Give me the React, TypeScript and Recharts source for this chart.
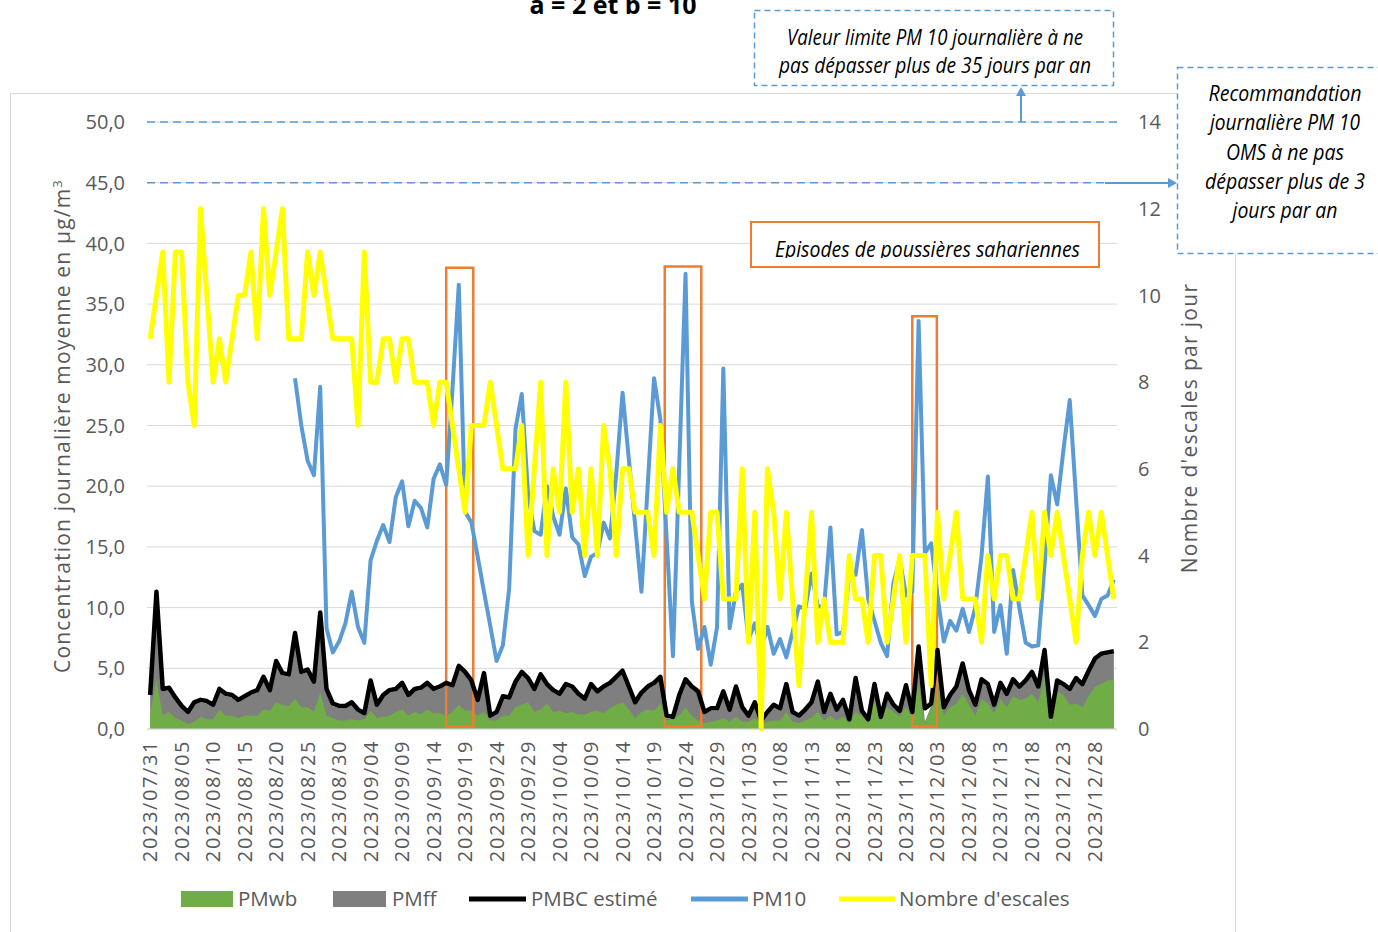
import React from "react";
import {
  ComposedChart,
  Area,
  Line,
  XAxis,
  YAxis,
  CartesianGrid,
  ReferenceLine,
  ReferenceArea,
} from "recharts";

// one value per day, 2023/07/31 -> 2023/12/31
const pmwb = [
  1.3, 4.0, 1.1, 1.4, 0.9, 0.7, 0.4, 0.6, 1.0, 0.8,
  0.8, 1.6, 1.1, 1.1, 0.9, 1.1, 1.1, 1.1, 1.6, 1.5,
  2.2, 2.0, 1.9, 2.5, 1.8, 1.8, 1.4, 3.0, 1.1, 0.9,
  0.7, 0.7, 0.8, 0.7, 0.8, 1.5, 0.9, 1.0, 1.1, 1.4,
  1.6, 1.1, 1.4, 1.2, 1.6, 1.3, 1.3, 1.1, 1.4, 2.0,
  1.5, 1.5, 1.1, 1.4, 0.7, 0.7, 1.1, 1.1, 1.8, 2.0,
  2.2, 1.4, 1.6, 2.1, 1.4, 1.5, 1.3, 1.4, 1.2, 1.2,
  1.4, 1.5, 1.3, 1.7, 2.0, 2.2, 1.6, 0.9, 1.4, 1.6,
  1.5, 2.1, 0.7, 0.9, 1.1, 1.8, 1.1, 0.7, 0.5, 0.6,
  0.7, 0.9, 0.6, 1.0, 0.6, 0.6, 0.9, 0.3, 0.6, 0.7,
  0.7, 1.4, 0.6, 0.5, 0.7, 0.9, 1.4, 0.7, 1.1, 0.7,
  1.0, 0.5, 1.4, 1.1, 0.6, 2.4, 1.1, 1.8, 1.4, 1.0,
  1.8, 1.0, 3.7, 0.5, 1.8, 4.3, 1.1, 1.8, 2.1, 2.9,
  2.0, 1.1, 2.5, 2.1, 1.3, 2.5, 1.8, 2.7, 2.4, 2.5,
  2.9, 2.2, 4.3, 0.5, 3.1, 2.8, 2.0, 2.1, 1.8, 2.7,
  3.5, 3.7, 4.0, 4.1,
];

const pmff = [
  2.6, 11.0, 3.1, 3.2, 2.4, 1.7, 1.2, 2.0, 2.2, 2.1,
  1.8, 3.1, 2.7, 2.6, 2.2, 2.5, 2.8, 3.0, 4.1, 3.0,
  5.4, 4.4, 4.3, 7.7, 4.5, 4.7, 3.7, 9.4, 3.1, 1.9,
  1.7, 1.7, 2.0, 1.4, 1.1, 3.8, 1.8, 2.6, 3.0, 3.1,
  3.6, 2.6, 3.1, 3.2, 3.6, 3.1, 3.3, 3.6, 3.4, 5.0,
  4.5, 3.8, 2.2, 4.4, 0.9, 1.2, 2.5, 2.4, 3.7, 4.5,
  4.0, 3.1, 4.3, 3.5, 3.0, 2.7, 3.5, 3.3, 2.7, 2.3,
  3.5, 2.9, 3.3, 3.6, 4.1, 4.6, 3.3, 2.0, 2.8, 3.3,
  3.6, 4.1, 0.9, 0.8, 2.6, 3.9, 3.3, 2.9, 1.2, 1.5,
  1.5, 2.9, 1.4, 3.3, 1.6, 0.9, 2.0, 0.5, 1.2, 1.8,
  1.5, 3.5, 1.2, 0.9, 1.4, 2.0, 3.7, 1.2, 2.7, 1.4,
  2.2, 0.6, 4.0, 1.3, 0.6, 3.5, 0.8, 2.7, 1.8, 1.3,
  3.4, 1.2, 6.6, 0.6, 1.9, 6.3, 1.6, 2.6, 3.3, 5.2,
  3.0, 1.8, 3.9, 3.5, 1.8, 3.6, 2.7, 3.9, 3.3, 3.8,
  4.5, 3.3, 6.3, 0.5, 3.8, 3.5, 3.1, 4.0, 3.5, 4.6,
  5.6, 6.0, 6.1, 6.2,
];

const pmbc = [
  2.8, 11.3, 3.3, 3.4, 2.6, 1.9, 1.4, 2.2, 2.4, 2.3,
  2.0, 3.3, 2.9, 2.8, 2.4, 2.7, 3.0, 3.2, 4.3, 3.2,
  5.6, 4.6, 4.5, 7.9, 4.7, 4.9, 3.9, 9.6, 3.3, 2.1,
  1.9, 1.9, 2.2, 1.6, 1.3, 4.0, 2.0, 2.8, 3.2, 3.3,
  3.8, 2.8, 3.3, 3.4, 3.8, 3.3, 3.5, 3.8, 3.6, 5.2,
  4.7, 4.0, 2.4, 4.6, 1.1, 1.4, 2.7, 2.6, 3.9, 4.7,
  4.2, 3.3, 4.5, 3.7, 3.2, 2.9, 3.7, 3.5, 2.9, 2.5,
  3.7, 3.1, 3.5, 3.8, 4.3, 4.8, 3.5, 2.2, 3.0, 3.5,
  3.8, 4.3, 1.1, 1.0, 2.8, 4.1, 3.5, 3.1, 1.4, 1.7,
  1.7, 3.1, 1.6, 3.5, 1.8, 1.1, 2.2, 0.7, 1.4, 2.0,
  1.7, 3.7, 1.4, 1.1, 1.6, 2.2, 3.9, 1.4, 2.9, 1.6,
  2.4, 0.8, 4.2, 1.5, 0.8, 3.7, 1.0, 2.9, 2.0, 1.5,
  3.6, 1.4, 6.8, 1.7, 2.1, 6.5, 1.8, 2.8, 3.5, 5.4,
  3.2, 2.0, 4.1, 3.7, 2.0, 3.8, 2.9, 4.1, 3.5, 4.0,
  4.7, 3.5, 6.5, 1.0, 4.0, 3.7, 3.3, 4.2, 3.7, 4.8,
  5.8, 6.2, 6.3, 6.4,
];

const pm10 = [
  null, null, null, null, null, null, null, null, null, null,
  null, null, null, null, null, null, null, null, null, null,
  null, null, null, 28.9, 25.0, 22.1, 20.9, 28.2, 8.3, 6.3,
  7.2, 8.7, 11.3, 8.4, 7.1, 13.9, 15.5, 16.8, 15.4, 19.1,
  20.4, 16.7, 18.8, 18.2, 16.6, 20.6, 21.8, 20.1, 28.0, 36.6,
  17.9, 17.0, 14.2, 11.3, 8.5, 5.6, 6.9, 11.6, 24.7, 27.6,
  19.3, 16.3, 16.0, 20.0, 17.5, 16.0, 19.8, 15.8, 15.2, 12.6,
  14.2, 14.5, 17.0, 15.7, 21.0, 27.7, 22.2, 16.8, 11.3, 20.1,
  28.9, 25.5, 15.7, 6.0, 21.7, 37.5, 10.5, 6.6, 8.4, 5.3,
  8.4, 29.7, 8.3, 11.3, 11.9, 7.4, 8.7, 6.6, 8.4, 6.2,
  7.4, 5.9, 8.0, 10.1, 9.9, 12.8, 10.1, 10.1, 16.6, 7.8,
  8.0, 12.8, 12.7, 16.4, 10.7, 8.9, 7.1, 6.0, 12.0, 14.0,
  11.0, 11.3, 33.6, 14.5, 15.3, 11.0, 7.2, 8.9, 8.1, 9.9,
  8.0, 10.0, 14.3, 20.8, 8.0, 10.2, 6.2, 13.1, 10.0, 7.1,
  6.8, 6.9, 13.5, 20.9, 18.5, 23.0, 27.1, 19.0, 11.0, 10.2,
  9.3, 10.7, 11.0, 12.3,
];

const escales = [
  9, 10, 11, 8, 11, 11, 8, 7, 12, 10,
  8, 9, 8, 9, 10, 10, 11, 9, 12, 10,
  11, 12, 9, 9, 9, 11, 10, 11, 10, 9,
  9, 9, 9, 7, 11, 8, 8, 9, 9, 8,
  9, 9, 8, 8, 8, 7, 8, 8, 7, 6,
  5, 7, 7, 7, 8, 7, 6, 6, 6, 7,
  4, 6, 8, 4, 6, 5, 8, 5, 6, 4,
  6, 4, 7, 6, 4, 6, 6, 5, 5, 5,
  4, 7, 5, 6, 5, 5, 5, 4, 3, 5,
  5, 3, 3, 3, 6, 2, 5, 0, 6, 5,
  3, 5, 3, 1, 3, 5, 2, 3, 2, 2,
  2, 4, 3, 3, 2, 4, 4, 2, 3, 4,
  2, 4, 4, 4, 1, 5, 3, 4, 5, 3,
  3, 3, 2, 4, 3, 4, 4, 3, 3, 4,
  5, 3, 5, 4, 5, 4, 3, 2, 4, 5,
  4, 5, 4, 3,
];

const xTicks = [0, 5, 10, 15, 20, 25, 30, 35, 40, 45, 50, 55, 60, 65, 70, 75, 80, 85, 90, 95, 100, 105, 110, 115, 120, 125, 130, 135, 140, 145, 150];
const leftTicks = [0, 5, 10, 15, 20, 25, 30, 35, 40, 45, 50];
const rightTicks = [0, 2, 4, 6, 8, 10, 12, 14];

// saharan dust episodes, in day index / µg/m3
const episodes = [
  { x1: 47.0, x2: 51.3, top: 38.0 },
  { x1: 81.7, x2: 87.5, top: 38.1 },
  { x1: 121.0, x2: 124.9, top: 34.0 },
];

const limitNote = ["Valeur limite PM 10 journalière à ne", "pas dépasser plus de 35 jours par an"];
const limitWidths = [296, 312];
const omsNote = ["Recommandation", "journalière PM 10", "OMS à ne pas", "dépasser plus de 3", "jours par an"];
const omsWidths = [153, 150, 118, 160, 105];

const START = Date.UTC(2023, 6, 31);
const pad = (n: number) => String(n).padStart(2, "0");
const dates = pmbc.map((_, i) => {
  const d = new Date(START + i * 86400000);
  return `${d.getUTCFullYear()}/${pad(d.getUTCMonth() + 1)}/${pad(d.getUTCDate())}`;
});

const data = dates.map((date, i) => ({
  i,
  date,
  pmwb: pmwb[i],
  pmff: pmff[i],
  pmbc: pmbc[i],
  pm10: pm10[i],
  escales: escales[i],
}));

const W = 1378;
const H = 932;
const BLUE = "#5b9bd5";
const ORANGE = "#ed7d31";
const GRID = "#d9d9d9";
const TXT = "#595959";
const FONT = "'Open Sans', 'Liberation Sans', sans-serif";

const fmt = (v: number) => v.toFixed(1).replace(".", ",");

function DateTick(props: any) {
  const { x, y, payload } = props;
  return (
    <g transform={`translate(${x},${y})`}>
      <text transform="rotate(-90)" x={-3} dy={7} textAnchor="end" fill={TXT} fontSize={20} letterSpacing={1.6}>
        {dates[payload.value]}
      </text>
    </g>
  );
}

function Note({ x, y, w, text }: { x: number; y: number; w: number; text: string }) {
  return (
    <text x={x} y={y} textAnchor="middle" fontSize={21} fontStyle="italic" fill="#000" textLength={w} lengthAdjust="spacingAndGlyphs">
      {text}
    </text>
  );
}

export default function App() {
  return (
    <div style={{ position: "absolute", left: 0, top: 0, width: W, height: H, background: "#fff", overflow: "hidden", fontFamily: FONT }}>
      <ComposedChart width={W} height={H} data={data} margin={{ top: 122, right: 161, bottom: 63, left: 47 }}>
        <CartesianGrid vertical={false} stroke={GRID} />
        <XAxis
          dataKey="i"
          type="number"
          domain={[-0.5, 153.5]}
          ticks={xTicks}
          interval={0}
          tick={DateTick}
          tickLine={false}
          axisLine={{ stroke: GRID }}
          height={140}
        />
        <YAxis
          domain={[0, 50]}
          ticks={leftTicks}
          tickFormatter={fmt}
          axisLine={false}
          tickLine={false}
          tickMargin={16}
          width={100}
          tick={{ fontSize: 20, fill: TXT }}
        />
        <YAxis
          yAxisId="right"
          orientation="right"
          domain={[0, 14]}
          ticks={rightTicks}
          axisLine={false}
          tickLine={false}
          tickMargin={15}
          width={100}
          tick={{ fontSize: 20, fill: TXT, textAnchor: "start" }}
        />
        <ReferenceLine y={50} stroke={BLUE} strokeWidth={1.5} strokeDasharray="8 5" />
        <ReferenceLine y={45} stroke={BLUE} strokeWidth={1.5} strokeDasharray="8 5" />
        <Area type="linear" dataKey="pmff" stroke="none" fill="#7f7f7f" fillOpacity={1} dot={false} activeDot={false} isAnimationActive={false} />
        <Area type="linear" dataKey="pmwb" stroke="none" fill="#70ad47" fillOpacity={1} dot={false} activeDot={false} isAnimationActive={false} />
        <Line type="linear" dataKey="pmbc" stroke="#000" strokeWidth={4.5} strokeLinejoin="round" dot={false} activeDot={false} isAnimationActive={false} />
        <Line type="linear" dataKey="pm10" stroke={BLUE} strokeWidth={4} strokeLinejoin="round" dot={false} activeDot={false} isAnimationActive={false} />
        <Line type="linear" yAxisId="right" dataKey="escales" stroke="#ffff00" strokeWidth={5} strokeLinejoin="round" dot={false} activeDot={false} isAnimationActive={false} />
        {episodes.map((e, k) => (
          <ReferenceArea key={k} x1={e.x1} x2={e.x2} y1={0.2} y2={e.top} fill="none" stroke={ORANGE} strokeWidth={2.5} ifOverflow="visible" />
        ))}
      </ComposedChart>

      <svg width={W} height={H} style={{ position: "absolute", left: 0, top: 0, pointerEvents: "none" }} fontFamily={FONT}>
        <defs>
          <clipPath id="epiClip">
            <rect x={751} y={222} width={348} height={36} />
          </clipPath>
        </defs>
        <text x={613} y={14} textAnchor="middle" fontWeight="bold" fontSize={25} fill="#000">a = 2 et b = 10</text>
        <path d="M10.5 932 V93.5 H1235.5 V932" fill="none" stroke={GRID} />

        {/* axis titles */}
        <text transform="translate(70,426) rotate(-90)" textAnchor="middle" fontSize={21} fill={TXT} letterSpacing={1.2}>
          Concentration journalière moyenne en µg/m<tspan dy={-8} fontSize={13}>3</tspan>
        </text>
        <text transform="translate(1197,428) rotate(-90)" textAnchor="middle" fontSize={21} fill={TXT} letterSpacing={1.3}>
          Nombre d'escales par jour
        </text>

        {/* arrows to the notes */}
        <line x1={1021} y1={122} x2={1021} y2={95} stroke={BLUE} strokeWidth={2} />
        <polygon points="1021,87 1016,96 1026,96" fill={BLUE} />
        <line x1={1105} y1={183} x2={1168} y2={183} stroke={BLUE} strokeWidth={2} />
        <polygon points="1177,183 1168,178 1168,188" fill={BLUE} />

        {/* notes */}
        <rect x={754.5} y={10.5} width={359} height={75} fill="#fff" stroke={BLUE} strokeWidth={1.5} strokeDasharray="6 4" />
        {limitNote.map((t, k) => (
          <Note key={k} x={935} y={45 + k * 28} w={limitWidths[k]} text={t} />
        ))}

        <rect x={1177.5} y={67.5} width={230} height={186} fill="#fff" stroke={BLUE} strokeWidth={1.5} strokeDasharray="6 4" />
        {omsNote.map((t, k) => (
          <Note key={k} x={1285} y={101 + k * 29.3} w={omsWidths[k]} text={t} />
        ))}

        <rect x={751} y={222} width={348} height={45} fill="#fff" stroke={ORANGE} strokeWidth={2} />
        <g clipPath="url(#epiClip)">
          <text x={927.5} y={257} textAnchor="middle" fontSize={22} fontStyle="italic" fill="#000" textLength={305} lengthAdjust="spacingAndGlyphs">
            Episodes de poussières sahariennes
          </text>
        </g>

        {/* legend */}
        <rect x={181} y={891} width={52} height={16} fill="#70ad47" />
        <text x={238} y={906} fontSize={20.5} fill={TXT}>PMwb</text>
        <rect x={333} y={891} width={53} height={16} fill="#7f7f7f" />
        <text x={392} y={906} fontSize={20.5} fill={TXT}>PMff</text>
        <line x1={469} y1={899} x2={526} y2={899} stroke="#000" strokeWidth={5} />
        <text x={531} y={906} fontSize={20.5} fill={TXT}>PMBC estimé</text>
        <line x1={691} y1={899} x2={748} y2={899} stroke={BLUE} strokeWidth={5} />
        <text x={752} y={906} fontSize={20.5} fill={TXT}>PM10</text>
        <line x1={839} y1={899} x2={895} y2={899} stroke="#ffff00" strokeWidth={5} />
        <text x={899} y={906} fontSize={20.5} fill={TXT}>Nombre d'escales</text>
      </svg>
    </div>
  );
}
